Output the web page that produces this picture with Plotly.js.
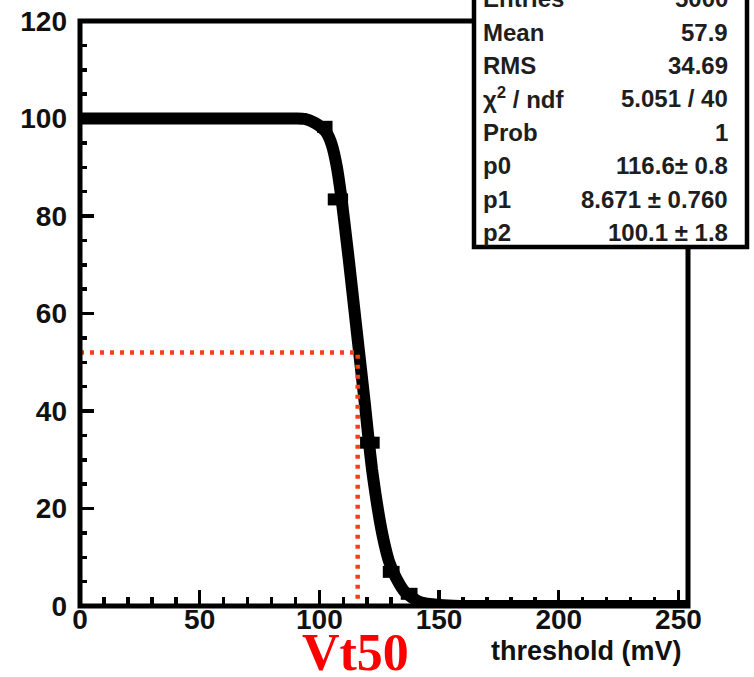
<!DOCTYPE html>
<html>
<head>
<meta charset="utf-8">
<script src="https://cdn.plot.ly/plotly-3.0.1.min.js"></script>
<style>
  html, body { margin: 0; padding: 0; background: #ffffff; }
  #plot { width: 754px; height: 677px; }
</style>
</head>
<body>
<div id="plot"></div>
<script>
// Efficiency vs. discriminator threshold with a Fermi-like fit
const fitX = [0, 90, 93.9, 98.1, 101.0, 103.1, 105.2, 107.3, 109.0, 110.5, 112.3, 114.0, 115.7, 117.3, 119.0, 120.5, 122.0, 123.6, 125.5, 127.3, 129.2, 131.9, 135.7, 142.0, 150.3, 158.7, 254];
const fitY = [100, 100, 99.9, 99.1, 98.1, 97.0, 94.6, 90.1, 84.5, 78.5, 71.0, 63.5, 56.0, 49.0, 41.5, 34.5, 28.0, 22.5, 16.8, 12.5, 9.0, 5.9, 2.9, 0.8, 0.2, 0, 0];

// histogram bins that stick out of the fitted curve
const binLo  = [99, 103.5, 117, 126.5, 134];
const binHi  = [105.5, 112, 125.2, 133.5, 141];
const binVal = [98.3, 83.4, 33.5, 7, 2.5];

// 50% working point guide
const vt50 = 116;
const halfLevel = 52;

// statistics box
const statNames  = ['Entries', 'Mean', 'RMS', '\u03c7<sup>2</sup> / ndf', 'Prob', 'p0', 'p1', 'p2'];
const statValues = ['5000', '57.9', '34.69', '5.051 / 40', '1', '116.6\u00b1 0.8', '8.671 \u00b1 0.760', '100.1 \u00b1 1.8'];

const W = 754, H = 677;
const M = { l: 80, r: 66, t: 21, b: 71 };
const PW = W - M.l - M.r, PH = H - M.t - M.b;
const px2x = p => (p - M.l) / PW;
const py2y = p => (H - M.b - p) / PH;

const FONT = 'Liberation Sans, Arial, Helvetica, sans-serif';
const INK = '#111111';

// step segments of the histogram, separated by gaps
const histX = [], histY = [];
binLo.forEach((lo, i) => {
  histX.push(lo, binHi[i], null);
  histY.push(binVal[i], binVal[i], null);
});

const traces = [
  {
    x: fitX, y: fitY, type: 'scatter', mode: 'lines',
    line: { color: '#000000', width: 12, shape: 'spline', smoothing: 0.6 },
    hoverinfo: 'skip', showlegend: false
  },
  {
    x: histX, y: histY, type: 'scatter', mode: 'lines',
    line: { color: '#000000', width: 12 },
    connectgaps: false, hoverinfo: 'skip', showlegend: false
  },
  {
    x: [0, vt50, vt50], y: [halfLevel, halfLevel, 0], type: 'scatter', mode: 'lines',
    line: { color: '#ff3c14', width: 4.5, dash: '4px,6px' },
    hoverinfo: 'skip', showlegend: false
  }
];

const annotations = [];
const rowY = [-1, 32, 66, 98.5, 132, 165, 199, 232];
const statFont = { family: FONT, size: 24, color: '#1e1e1e', weight: 'bold' };
statNames.forEach((name, i) => {
  annotations.push({
    xref: 'paper', yref: 'paper', x: px2x(481), y: py2y(rowY[i]),
    xanchor: 'left', yanchor: 'middle', showarrow: false,
    text: name, font: statFont
  });
  annotations.push({
    xref: 'paper', yref: 'paper', x: px2x(730), y: py2y(rowY[i]),
    xanchor: 'right', yanchor: 'middle', showarrow: false,
    text: statValues[i], font: statFont
  });
});

// axis title, right-aligned under the axis
annotations.push({
  xref: 'paper', yref: 'paper', x: px2x(684), y: py2y(651),
  xanchor: 'right', yanchor: 'middle', showarrow: false,
  text: 'threshold (mV)', font: { family: FONT, size: 27, color: INK, weight: 'bold' }
});

// Vt50 marker label
annotations.push({
  xref: 'paper', yref: 'paper', x: px2x(355), y: py2y(652),
  xanchor: 'center', yanchor: 'middle', showarrow: false,
  text: 'Vt50', font: { family: 'Liberation Serif, Times New Roman, serif', size: 52, color: '#ff0000', weight: 'bold' }
});

const tickFont = { family: FONT, size: 28, color: INK, weight: 'bold' };

const layout = {
  width: W, height: H,
  margin: M,
  paper_bgcolor: '#ffffff', plot_bgcolor: '#ffffff',
  showlegend: false,
  xaxis: {
    range: [0, 254], showgrid: false, zeroline: false, showline: false,
    ticks: 'inside', ticklen: 16, tickwidth: 3.5, tickcolor: '#000',
    tick0: 0, dtick: 50, tickfont: tickFont, ticklabelstandoff: -6,
    minor: { ticks: 'inside', dtick: 10, ticklen: 9, tickwidth: 3.5, tickcolor: '#000', showgrid: false }
  },
  yaxis: {
    range: [0, 120], showgrid: false, zeroline: false, showline: false,
    ticks: 'inside', ticklen: 14, tickwidth: 3.5, tickcolor: '#000',
    tick0: 0, dtick: 20, tickfont: tickFont, ticklabelstandoff: 12,
    minor: { ticks: 'inside', dtick: 5, ticklen: 7, tickwidth: 3.5, tickcolor: '#000', showgrid: false }
  },
  shapes: [
    // frame
    { type: 'rect', xref: 'paper', yref: 'paper', x0: 0, x1: 1, y0: 0, y1: 1,
      line: { color: '#000', width: 5 }, fillcolor: 'rgba(0,0,0,0)', layer: 'above' },
    // statistics box
    { type: 'rect', xref: 'paper', yref: 'paper', x0: px2x(474), x1: px2x(747), y0: py2y(247), y1: py2y(-40),
      line: { color: '#000', width: 4.5 }, fillcolor: '#ffffff', layer: 'above' }
  ],
  annotations: annotations
};

Plotly.newPlot('plot', traces, layout, { staticPlot: true, displayModeBar: false });
</script>
</body>
</html>
